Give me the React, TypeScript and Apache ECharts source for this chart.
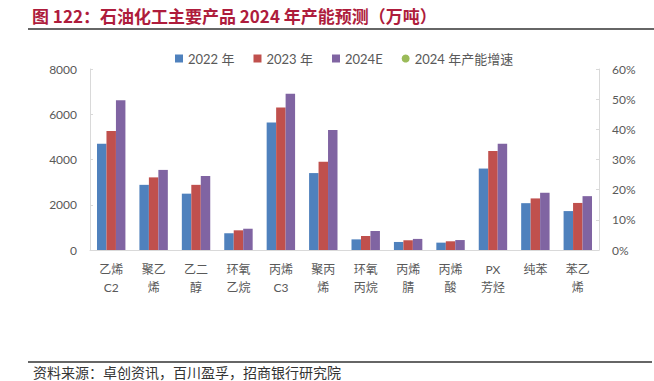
import React, { useEffect, useRef } from "react";
import * as echarts from "echarts";

const categories = ["乙烯\nC2", "聚乙\n烯", "乙二\n醇", "环氧\n乙烷", "丙烯\nC3", "聚丙\n烯", "环氧\n丙烷", "丙烯\n腈", "丙烯\n酸", "PX\n芳烃", "纯苯", "苯乙\n烯"];
const cap2022 = [4700, 2880, 2490, 740, 5630, 3400, 470, 355, 325, 3600, 2070, 1720];
const cap2023 = [5260, 3210, 2880, 870, 6300, 3900, 620, 430, 385, 4380, 2280, 2080];
const cap2024E = [6620, 3540, 3270, 940, 6910, 5300, 840, 490, 440, 4700, 2530, 2380];
const growth2024: number[] = [];
const leftTicks = { min: 0, max: 8000, interval: 2000 };
const rightTicks = { min: 0, max: 60, interval: 10 };

const FONT = "Lato, 'Noto Sans CJK SC', sans-serif";
const GRAY = "#595959";

export default function App() {
  const ref = useRef<HTMLDivElement>(null);
  useEffect(() => {
    document.body.style.margin = "0";
    if (!ref.current) return;
    const chart = echarts.init(ref.current, undefined, { renderer: "svg" });
    chart.setOption({
      animation: false,
      backgroundColor: "#ffffff",
      textStyle: { fontFamily: FONT },
      legend: {
        left: 170,
        top: 47,
        itemWidth: 8,
        itemHeight: 8,
        itemGap: 19,
        textStyle: { color: GRAY, fontSize: 13, fontFamily: FONT },
        data: [
          { name: "2022 年", icon: "rect" },
          { name: "2023 年", icon: "rect" },
          { name: "2024E", icon: "rect" },
          { name: "2024 年产能增速", icon: "circle" },
        ],
      },
      grid: { left: 90, right: 55, top: 69, bottom: 131 },
      xAxis: {
        type: "category",
        data: categories,
        axisLine: { lineStyle: { color: "#D9D9D9" } },
        axisTick: { show: false },
        axisLabel: { color: GRAY, fontSize: 12, lineHeight: 18, margin: 10, interval: 0 },
      },
      yAxis: [
        {
          type: "value",
          ...leftTicks,
          splitLine: { show: false },
          axisLine: { show: true, lineStyle: { color: "#D9D9D9" } },
          axisTick: { show: true, inside: true, length: 3, lineStyle: { color: "#D9D9D9" } },
          axisLabel: { color: GRAY, fontSize: 12, margin: 13, formatter: (v: number) => String(v) },
        },
        {
          type: "value",
          ...rightTicks,
          position: "right",
          splitLine: { show: false },
          axisLine: { show: true, lineStyle: { color: "#D9D9D9" } },
          axisTick: { show: true, inside: true, length: 3, lineStyle: { color: "#D9D9D9" } },
          axisLabel: { color: GRAY, fontSize: 12, margin: 13, formatter: "{value}%" },
        },
      ],
      series: [
        { name: "2022 年", type: "bar", data: cap2022, itemStyle: { color: "#4F81BD" }, barGap: "0%", barCategoryGap: "33%" },
        { name: "2023 年", type: "bar", data: cap2023, itemStyle: { color: "#C0504D" }, barGap: "0%", barCategoryGap: "33%" },
        { name: "2024E", type: "bar", data: cap2024E, itemStyle: { color: "#8064A2" }, barGap: "0%", barCategoryGap: "33%" },
        { name: "2024 年产能增速", type: "line", yAxisIndex: 1, data: growth2024, itemStyle: { color: "#9BBB59" }, lineStyle: { color: "#9BBB59" }, symbol: "circle" },
      ],
      graphic: [
        {
          type: "text",
          left: 32,
          top: 7,
          style: {
            text: "图 122：石油化工主要产品 2024 年产能预测（万吨）",
            fill: "#AE1C3C",
            fontSize: 17,
            fontWeight: "bold",
            fontFamily: "'Noto Sans CJK SC', sans-serif",
          },
        },
        { type: "line", shape: { x1: 28, y1: 29, x2: 654, y2: 29 }, style: { stroke: "#333333", lineWidth: 1.5 } },
        { type: "line", shape: { x1: 28, y1: 362, x2: 652, y2: 362 }, style: { stroke: "#333333", lineWidth: 1.5 } },
        {
          type: "text",
          left: 33,
          top: 365,
          style: {
            text: "资料来源：卓创资讯，百川盈孚，招商银行研究院",
            fill: "#333333",
            fontSize: 14,
            fontFamily: "'Noto Sans CJK SC', sans-serif",
          },
        },
      ],
    });
    return () => chart.dispose();
  }, []);
  return <div ref={ref} style={{ width: 654, height: 381 }} />;
}
